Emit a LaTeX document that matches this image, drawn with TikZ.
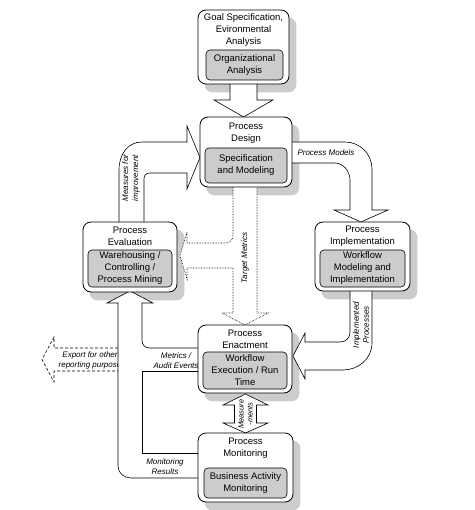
\documentclass[tikz,border=0pt]{standalone}
\usepackage{fontspec}
\setmainfont{Liberation Sans}
\usetikzlibrary{calc}
\pgfdeclarelayer{shadowlayer}
\pgfdeclarelayer{arrowlayer}
\pgfsetlayers{shadowlayer,arrowlayer,main}
\definecolor{shadowc}{gray}{0.80}
\definecolor{innerc}{gray}{0.80}
\begin{document}
\begin{tikzpicture}[x=1pt,y=-1pt,
  obox/.style={draw, rounded corners=8pt, fill=white, line width=0.8pt, inner sep=0pt},
  ibox/.style={draw, rounded corners=4pt, fill=innerc, line width=0.6pt, align=center, inner sep=0pt, font=\fontsize{9.5}{12}\selectfont},
  ttext/.style={align=center, inner sep=0pt, font=\fontsize{9.5}{12}\selectfont},
  lbl/.style={align=center, inner sep=0pt, font=\itshape\fontsize{8}{10}\selectfont},
  blk/.style={draw, fill=white, line width=0.6pt, line join=miter},
  ]
\useasboundingbox (0,0) rectangle (474,510);

% boxes
\node[obox, minimum width=91pt, minimum height=74pt] (goal) at (243.5,47) {};
\node[ibox, minimum width=77pt, minimum height=30pt] (goalin) at (244.5,65) {Organizational\\Analysis};
\node[ttext] (goaltxt) at (243.5,30.5) {Goal Specification,\\Evironmental\\Analysis};

\node[obox, minimum width=92pt, minimum height=70pt] (design) at (246,152) {};
\node[ibox, minimum width=82pt, minimum height=35pt] (designin) at (246,165.5) {Specification\\and Modeling};
\node[ttext] (designtxt) at (246,133) {Process\\Design};

\node[obox, minimum width=94pt, minimum height=70pt] (eval) at (130,257) {};
\node[ibox, minimum width=84pt, minimum height=37pt] (evalin) at (130,268.5) {Warehousing /\\Controlling /\\Process Mining};
\node[ttext] (evaltxt) at (130,236.5) {Process\\Evaluation};

\node[obox, minimum width=95pt, minimum height=69pt] (impl) at (362.5,256.5) {};
\node[ibox, minimum width=85pt, minimum height=37pt] (implin) at (362.5,268.5) {Workflow\\Modeling and\\Implementation};
\node[ttext] (impltxt) at (362.5,236.5) {Process\\Implementation};

\node[obox, minimum width=94pt, minimum height=68pt] (enact) at (245,359) {};
\node[ibox, minimum width=84pt, minimum height=37pt] (enactin) at (245,370.5) {Workflow\\Execution / Run\\Time};
\node[ttext] (enacttxt) at (245,339.5) {Process\\Enactment};

\node[obox, minimum width=95pt, minimum height=69pt] (moni) at (245.5,467.5) {};
\node[ibox, minimum width=83pt, minimum height=30pt] (moniin) at (245.5,483) {Business Activity\\Monitoring};
\node[ttext] (monitxt) at (245.5,448) {Process\\Monitoring};

% shadows
\begin{pgfonlayer}{shadowlayer}
\foreach \n in {goal,design,eval,impl,enact,moni}
  \fill[shadowc, rounded corners=8pt] ($(\n.north west)+(7,8)$) rectangle ($(\n.south east)+(7,8)$);
\end{pgfonlayer}

% arrows
\begin{pgfonlayer}{arrowlayer}
% goal -> design
\draw[blk] (230,84) -- (230,100) -- (214,100) -- (243.5,117) -- (273,100) -- (257,100) -- (257,84);
% design -> implementation
\draw[blk] (292,142) -- (345,142) .. controls (360,142) and (372,154) .. (372,169) -- (372,210) -- (388,210) -- (361,222) -- (334,210) -- (350,210) -- (350,180) .. controls (350,171) and (343,163) .. (335,163) -- (292,163);
% implementation -> enactment
\draw[blk] (350,291) -- (350,332) .. controls (350,338) and (346,342) .. (340,342) -- (305,342) -- (305,333) -- (293,356) -- (305,379) -- (305,370) -- (343,370) .. controls (358,370) and (372,359) .. (372,343) -- (372,291);
% evaluation -> design
\draw[blk] (119,222) -- (119,170) .. controls (119,154) and (128,142) .. (142,142) -- (187,142) -- (187,126) -- (200,157.5) -- (187,189) -- (187,173) -- (150,173) .. controls (146,173) and (144,175) .. (144,179) -- (144,222);
% target metrics (dotted)
\draw[blk, densely dotted] (233,187) -- (233,235) .. controls (233,240) and (230,243) .. (225,243) -- (187,243) -- (187,232) -- (180,255.5) -- (187,279) -- (187,268) -- (233,268) -- (233,313) -- (222,313) -- (245,325) -- (268,313) -- (257,313) -- (257,187);
% export (dashed)
\draw[blk, densely dashed] (118,348) -- (54,348) -- (54,337) -- (42,359.5) -- (54,382) -- (54,371) -- (118,371);
\node[lbl] (exportlbl) at (90,360) {Export for other\\reporting purpose};
% enactment / monitoring -> evaluation
\fill[white] (198,478) -- (131,478) .. controls (124,478) and (118,473) .. (118,466) -- (118,303) -- (107,303) -- (130,291) -- (153,303) -- (142,303) -- (142,340) .. controls (142,345) and (145,348) .. (150,348) -- (198,348) -- (198,371) -- (142,371) -- (142,453) -- (198,453) -- cycle;
\draw[line width=0.6pt, line join=miter] (198,478) -- (131,478) .. controls (124,478) and (118,473) .. (118,466) -- (118,303) -- (107,303) -- (130,291) -- (153,303) -- (142,303) -- (142,340) .. controls (142,345) and (145,348) .. (150,348) -- (198,348);
\draw[line width=0.6pt] (198,371) -- (142,371) -- (142,453) -- (198,453);
% measurements double arrow
\draw[blk] (234.5,405) -- (223,405) -- (245.5,394) -- (268,405) -- (256.5,405) -- (256.5,423) -- (268,423) -- (245.5,433) -- (223,423) -- (234.5,423) -- cycle;
\end{pgfonlayer}

% labels
\node[lbl] (pmlbl) at (326,153) {Process Models};
\node[lbl, rotate=90] (mflbl) at (131,178) {Measures for\\improvement};
\node[lbl, rotate=90] (tmlbl) at (245,258) {Target Metrics};
\node[lbl, rotate=90] (iplbl) at (361,325) {Implemented\\Processes};
\node[lbl] (malbl) at (176,361) {Metrics /\\Audit Events};
\node[lbl] (mrlbl) at (165,467) {Monitoring\\Results};
\node[lbl, rotate=90, font=\itshape\fontsize{7.5}{9}\selectfont] (mmlbl) at (245.5,414) {Measure\\-ments};
\end{tikzpicture}
\end{document}
